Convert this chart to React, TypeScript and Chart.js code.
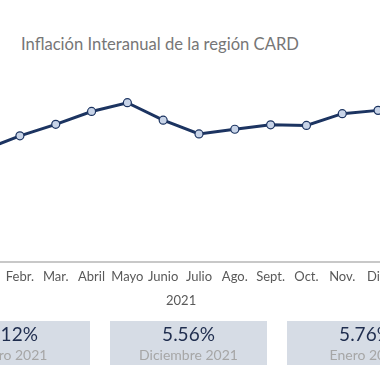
import React, { useEffect, useRef } from "react";
import { Chart, registerables } from "chart.js";

Chart.register(...registerables);

const title = "Inflación Interanual de la región CARD";
const monthLabels = ["Ene.", "Febr.", "Mar.", "Abril", "Mayo", "Junio", "Julio", "Ago.", "Sept.", "Oct.", "Nov.", "Dic.", "Ene."];
const inflation = [4.12, 4.63, 5.05, 5.52, 5.84, 5.2, 4.7, 4.87, 5.03, 5.01, 5.44, 5.56, 5.76];
const yearLabels = ["2021", "2022"];
const yearFirstIndex = [0, 12];
const yearLastIndex = [11, 12];
const cardIndices = [0, 11, 12];
const cardLabels = ["Enero 2021", "Diciembre 2021", "Enero 2022"];

const FONT = "Lato, 'Noto Sans', sans-serif";

const yearGroupPlugin = {
  id: "yearGroups",
  afterDraw(chart: any) {
    const x = chart.scales.x;
    const ctx = chart.ctx;
    ctx.save();
    ctx.font = `13px ${FONT}`;
    ctx.fillStyle = "#595959";
    ctx.textAlign = "center";
    ctx.textBaseline = "middle";
    yearLabels.forEach((lab, i) => {
      const a = x.getPixelForValue(yearFirstIndex[i]);
      const b = x.getPixelForValue(yearLastIndex[i]);
      ctx.fillText(lab, (a + b) / 2, x.bottom + 9);
    });
    ctx.restore();
  },
};

export default function App() {
  const ref = useRef<HTMLCanvasElement | null>(null);

  useEffect(() => {
    if (!ref.current) return;
    const chart = new Chart(ref.current, {
      type: "line",
      data: {
        labels: monthLabels,
        datasets: [
          {
            data: inflation,
            borderColor: "#1c3461",
            borderWidth: 3,
            pointRadius: 4,
            pointBorderWidth: 1.2,
            pointBackgroundColor: "#c8d4e8",
            pointBorderColor: "#1c3461",
            tension: 0,
          },
        ],
      },
      options: {
        animation: false,
        responsive: true,
        maintainAspectRatio: false,
        layout: { padding: { top: 11, bottom: 34, left: 0, right: 0 } },
        plugins: { legend: { display: false }, tooltip: { enabled: false }, title: { display: false } },
        scales: {
          y: { display: false, min: 0, max: 7 },
          x: {
            offset: true,
            grid: { display: false, drawTicks: false },
            border: { display: true, color: "#c8c8c8", width: 2 },
            ticks: {
              color: "#595959",
              font: { family: FONT, size: 13 },
              padding: 7,
              maxRotation: 0,
              autoSkip: false,
            },
          },
        },
      },
      plugins: [yearGroupPlugin],
    });
    return () => chart.destroy();
  }, []);

  return (
    <div style={{ position: "fixed", left: 0, top: 0, width: 380, height: 380, overflow: "hidden", background: "#fff" }}>
      <div style={{ position: "absolute", left: 21, top: 34, fontFamily: FONT, fontSize: 16.6, color: "#767676", whiteSpace: "nowrap" }}>
        {title}
      </div>
      <div style={{ position: "absolute", left: -39.5, top: 60, width: 476, height: 266 }}>
        <canvas ref={ref} />
      </div>
      <div style={{ position: "absolute", left: -67, top: 321, display: "flex", gap: 20 }}>
        {cardIndices.map((idx, i) => (
          <div
            key={i}
            style={{
              width: 157,
              height: 44,
              background: "#d6dce5",
              fontFamily: FONT,
              textAlign: "center",
              display: "flex",
              flexDirection: "column",
              justifyContent: "center",
            }}
          >
            <div style={{ fontSize: 19, color: "#1f2d4e", lineHeight: "22px" }}>{inflation[idx].toFixed(2)}%</div>
            <div style={{ fontSize: 14, color: "#a6a6a6", lineHeight: "19px" }}>{cardLabels[i]}</div>
          </div>
        ))}
      </div>
    </div>
  );
}
